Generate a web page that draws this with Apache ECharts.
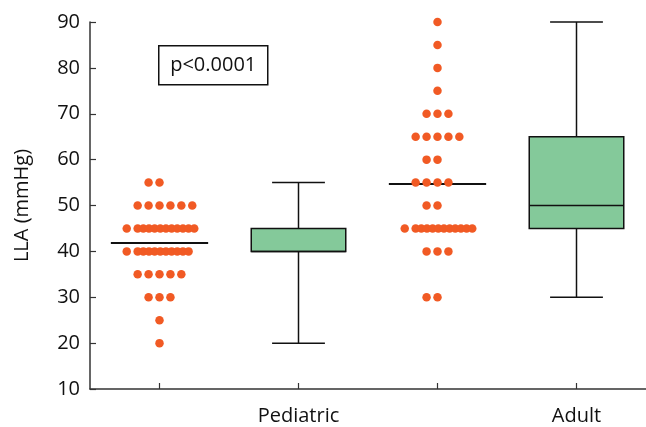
<!DOCTYPE html>
<html>
<head>
<meta charset="utf-8">
<script src="https://cdn.jsdelivr.net/npm/echarts@6/dist/echarts.min.js"></script>
<style>html,body{margin:0;padding:0;background:#fff}#c{width:646px;height:427px}</style>
</head>
<body>
<div id="c"></div>
<script>
// ---- data ----
const categories = ['', 'Pediatric', '', 'Adult'];
const yTicks = [10, 20, 30, 40, 50, 60, 70, 80, 90];
const pediatricValues = [55,55,50,50,50,50,50,50,
  45,45,45,45,45,45,45,45,45,45,45,45,
  40,40,40,40,40,40,40,40,40,40,40,
  35,35,35,35,35,30,30,30,25,20];
const adultValues = [90,85,80,75,70,70,70,65,65,65,65,65,60,60,55,55,55,55,50,50,
  45,45,45,45,45,45,45,45,45,45,45,45,40,40,40,30,30];
const pediatricMean = 41.8;
const adultMean = 54.7;
// box stats: [min, Q1, median, Q3, max]
const pediatricBox = [20, 40, 40, 45, 55];
const adultBox = [30, 45, 50, 65, 90];

// ---- layout helpers ----
const PX_PER_UNIT = 140;
function swarm(values, center) {
  const counts = {};
  values.forEach(v => counts[v] = (counts[v] || 0) + 1);
  const pts = [];
  Object.keys(counts).forEach(k => {
    const v = +k, n = counts[k];
    let offs = [];
    if (n <= 6) {
      const order = [0, -1, 1, -2, 2, 3];
      for (let i = 0; i < n; i++) offs.push(order[i] * 11);
    } else {
      offs.push(-33);
      for (let i = 0; i < n - 1; i++) offs.push(-22 + i * 5.7);
    }
    offs.forEach(o => pts.push([center + o / PX_PER_UNIT, v]));
  });
  return pts;
}

const DOT = '#F15A24';
const GREEN = '#84C99A';
const DARK = '#111111';
const FONT = 'Open Sans';
const FS = 20;

const chart = echarts.init(document.getElementById('c'), null, {renderer: 'canvas'});

function boxRender(params, api) {
  const x = api.value(0);
  const mn = api.value(1), q1 = api.value(2), md = api.value(3), q3 = api.value(4), mx = api.value(5);
  const halfBox = 0.34, halfCap = 0.19;
  const c = (xx, yy) => api.coord([xx, yy]);
  const lt = c(x - halfBox, q3), rb = c(x + halfBox, q1);
  const line = (a, b, w) => ({type: 'line', shape: {x1: a[0], y1: a[1], x2: b[0], y2: b[1]}, style: {stroke: DARK, lineWidth: w}});
  return {type: 'group', children: [
    line(c(x, q3), c(x, mx), 1.5),
    line(c(x, q1), c(x, mn), 1.5),
    line(c(x - halfCap, mx), c(x + halfCap, mx), 1.5),
    line(c(x - halfCap, mn), c(x + halfCap, mn), 1.5),
    {type: 'rect', shape: {x: lt[0], y: lt[1], width: rb[0] - lt[0], height: rb[1] - lt[1]}, style: {fill: GREEN, stroke: DARK, lineWidth: 1.5}},
    line(c(x - halfBox, md), c(x + halfBox, md), 1.5)
  ]};
}

function meanRender(params, api) {
  const x = api.value(0), m = api.value(1);
  const a = api.coord([x - 0.35, m]), b = api.coord([x + 0.35, m]);
  return {type: 'line', shape: {x1: a[0], y1: a[1], x2: b[0], y2: b[1]}, style: {stroke: DARK, lineWidth: 2}};
}

chart.setOption({
  animation: false,
  grid: {left: 90, right: -4, top: 22, bottom: 38, containLabel: false},
  xAxis: [{
    type: 'category', data: categories, boundaryGap: true,
    axisLine: {lineStyle: {color: '#333', width: 1.5}},
    axisTick: {show: true, inside: true, length: 6, alignWithLabel: true, lineStyle: {color: '#333', width: 1.2}},
    axisLabel: {interval: 0, color: DARK, fontSize: FS, fontFamily: FONT, margin: 17},
    splitLine: {show: false}
  }, {
    type: 'value', min: 0.5, max: 4.5, show: false
  }],
  yAxis: {
    type: 'value', min: yTicks[0], max: yTicks[yTicks.length - 1], interval: 10,
    name: 'LLA (mmHg)', nameLocation: 'middle', nameRotate: 90, nameGap: 58,
    nameTextStyle: {color: DARK, fontSize: FS, fontFamily: FONT},
    axisLine: {show: true, lineStyle: {color: '#333', width: 1.5}},
    axisTick: {show: true, inside: true, length: 6, lineStyle: {color: '#333', width: 1.2}},
    axisLabel: {color: DARK, fontSize: FS, fontFamily: FONT, margin: 10},
    splitLine: {show: false}
  },
  series: [
    {type: 'custom', xAxisIndex: 1, renderItem: boxRender,
     data: [[2].concat(pediatricBox), [4].concat(adultBox)]},
    {type: 'scatter', xAxisIndex: 1, symbol: 'circle', symbolSize: 8.5,
     itemStyle: {color: DOT, opacity: 1}, data: swarm(pediatricValues, 1).concat(swarm(adultValues, 3))},
    {type: 'custom', xAxisIndex: 1, renderItem: meanRender,
     data: [[1, pediatricMean], [3, adultMean]], z: 1}
  ],
  graphic: [{
    type: 'group', left: 158, top: 45,
    children: [
      {type: 'rect', shape: {x: 0, y: 0, width: 109, height: 39}, style: {fill: '#fff', stroke: DARK, lineWidth: 1.5}},
      {type: 'text', x: 54.5, y: 19.5, style: {text: 'p<0.0001', fill: DARK, font: '20px "Open Sans"', align: 'center', verticalAlign: 'middle'}}
    ]
  }]
});
</script>
</body>
</html>
